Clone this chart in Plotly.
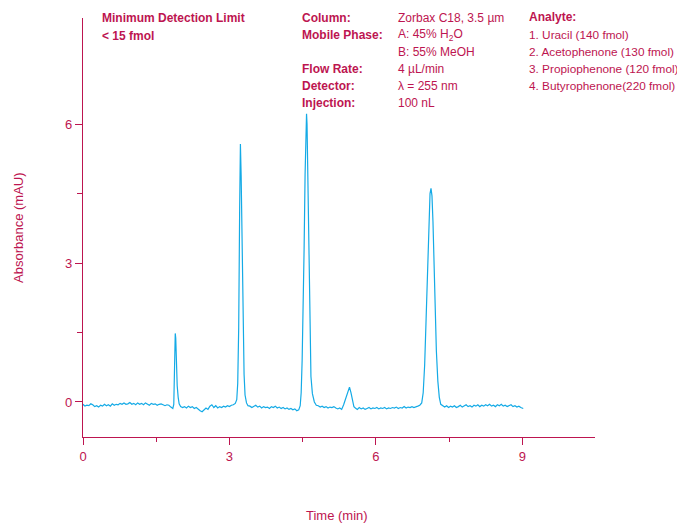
import plotly.graph_objects as go

# ---- data ----
time_min = [
    0.00, 0.04, 0.08, 0.12, 0.16, 0.20, 0.24, 0.28, 0.32, 0.36, 0.40, 0.44, 0.48, 0.52, 0.56, 0.60,
    0.64, 0.68, 0.72, 0.76, 0.80, 0.84, 0.88, 0.92, 0.96, 1.00, 1.04, 1.08, 1.12, 1.16, 1.20, 1.24,
    1.28, 1.32, 1.36, 1.40, 1.44, 1.48, 1.52, 1.56, 1.60, 1.64, 1.68, 1.72, 1.76, 1.80, 1.84,
    1.86, 1.87, 1.88, 1.89, 1.90, 1.91, 1.92, 1.93, 1.95, 1.97, 2.00,
    2.04, 2.08, 2.12, 2.16, 2.20, 2.24, 2.28, 2.32, 2.36, 2.40, 2.44, 2.48, 2.52, 2.56, 2.60, 2.64,
    2.68, 2.72, 2.76, 2.80, 2.84, 2.88, 2.92, 2.96, 3.00, 3.04, 3.08, 3.12,
    3.15, 3.17, 3.19, 3.21, 3.225, 3.24, 3.26, 3.28, 3.30, 3.32, 3.35, 3.38,
    3.42, 3.46, 3.50, 3.54, 3.58, 3.62, 3.66, 3.70, 3.74, 3.78, 3.82, 3.86, 3.90, 3.94, 3.98, 4.02,
    4.06, 4.10, 4.14, 4.18, 4.22, 4.26, 4.30, 4.34, 4.38, 4.42,
    4.45, 4.47, 4.49, 4.51, 4.53, 4.55, 4.57, 4.58, 4.59, 4.61, 4.63, 4.65, 4.67, 4.70, 4.74, 4.78,
    4.82, 4.86, 4.90, 4.94, 4.98, 5.02, 5.06, 5.10, 5.14, 5.18, 5.22, 5.26, 5.30,
    5.34, 5.38, 5.42, 5.46, 5.49, 5.52, 5.55,
    5.58, 5.62, 5.66, 5.70, 5.74, 5.78, 5.82, 5.86, 5.90, 5.94, 5.98, 6.02, 6.06, 6.10, 6.14, 6.18,
    6.22, 6.26, 6.30, 6.34, 6.38, 6.42, 6.46, 6.50, 6.54, 6.58, 6.62, 6.66, 6.70, 6.74, 6.78, 6.82,
    6.86, 6.90,
    6.94, 6.97, 7.00, 7.03, 7.06, 7.09, 7.11, 7.13, 7.15, 7.17, 7.19, 7.21, 7.24, 7.27, 7.30, 7.33, 7.37,
    7.41, 7.45, 7.49, 7.53, 7.57, 7.61, 7.65, 7.69, 7.73, 7.77, 7.81, 7.85, 7.89, 7.93, 7.97, 8.01,
    8.05, 8.09, 8.13, 8.17, 8.21, 8.25, 8.29, 8.33, 8.37, 8.41, 8.45, 8.49, 8.53, 8.57, 8.61, 8.65,
    8.69, 8.73, 8.77, 8.81, 8.85, 8.89, 8.93, 8.97, 9.02,
]

absorbance_mau = [
    -0.05, -0.09, -0.07, -0.08, -0.04, -0.06, -0.10, -0.08, -0.11, -0.07, -0.09, -0.05, -0.08, -0.06, -0.09, -0.04,
    -0.07, -0.05, -0.06, -0.03, -0.05, -0.02, -0.05, -0.04, -0.01, -0.05, -0.03, -0.06, -0.02, -0.05, -0.03, -0.06,
    -0.02, -0.04, -0.07, -0.03, -0.05, -0.04, -0.07, -0.05, -0.04, -0.06, -0.08, -0.06, -0.07, -0.11, -0.14,
    -0.05, 0.60, 1.30, 1.48, 1.38, 0.95, 0.55, 0.35, 0.10, -0.04, -0.10,
    -0.12, -0.10, -0.13, -0.09, -0.12, -0.10, -0.14, -0.12, -0.16, -0.19, -0.21, -0.17, -0.13, -0.16, -0.09, -0.06,
    -0.12, -0.08, -0.13, -0.10, -0.12, -0.09, -0.11, -0.08, -0.10, -0.07, -0.06, -0.03,
    0.05, 0.40, 1.60, 4.20, 5.57, 4.90, 3.20, 1.60, 0.60, 0.15, -0.02, -0.08,
    -0.09, -0.12, -0.10, -0.07, -0.11, -0.09, -0.13, -0.10, -0.12, -0.11, -0.14, -0.10, -0.12, -0.09, -0.13, -0.11,
    -0.14, -0.12, -0.15, -0.13, -0.16, -0.14, -0.17, -0.15, -0.19, -0.17,
    -0.08, 0.20, 0.90, 1.90, 3.30, 4.90, 6.10, 6.22, 6.00, 4.60, 2.60, 1.30, 0.55, 0.18, 0.00, -0.07,
    -0.08, -0.11, -0.09, -0.12, -0.10, -0.13, -0.11, -0.12, -0.10, -0.13, -0.15, -0.13, -0.16,
    -0.06, 0.08, 0.22, 0.32, 0.20, 0.02, -0.10,
    -0.13, -0.16, -0.12, -0.15, -0.13, -0.16, -0.14, -0.12, -0.15, -0.13, -0.14, -0.12, -0.15, -0.13, -0.14, -0.12,
    -0.15, -0.13, -0.14, -0.12, -0.13, -0.11, -0.14, -0.12, -0.13, -0.10, -0.13, -0.11, -0.12, -0.10, -0.12, -0.11,
    -0.09, -0.07,
    -0.02, 0.20, 0.80, 1.80, 3.00, 4.10, 4.50, 4.61, 4.45, 3.90, 3.00, 2.10, 1.10, 0.45, 0.10, -0.05, -0.09,
    -0.11, -0.08, -0.12, -0.09, -0.11, -0.08, -0.12, -0.10, -0.07, -0.11, -0.09, -0.06, -0.10, -0.08, -0.11, -0.07,
    -0.09, -0.06, -0.10, -0.07, -0.09, -0.06, -0.08, -0.05, -0.09, -0.07, -0.10, -0.06, -0.08, -0.05, -0.09, -0.07,
    -0.10, -0.08, -0.06, -0.10, -0.08, -0.11, -0.09, -0.12, -0.14,
]

x_ticks = [0, 3, 6, 9]
x_minor_ticks = [1.5, 4.5, 7.5]
y_ticks = [0, 3, 6]
y_minor_ticks = [1.5, 4.5]

left_note = ["Minimum Detection Limit", "< 15 fmol"]
cond_labels = ["Column:", "Mobile Phase:", "", "Flow Rate:", "Detector:", "Injection:"]
cond_values = ["Zorbax C18, 3.5 µm", "A: 45% H<sub>2</sub>O", "B: 55% MeOH",
               "4 µL/min", "λ = 255 nm", "100 nL"]
analyte_title = "Analyte:"
analytes = ["1. Uracil (140 fmol)", "2. Acetophenone (130 fmol)",
            "3. Propiophenone (120 fmol)", "4. Butyrophenone(220 fmol)"]

# ---- style ----
CRIMSON = "#BD1550"
LINE = "#14AAE6"
FONT = "Liberation Sans, Arial, sans-serif"

OFF = 8  # page body margin
W, H = 685 - OFF, 523 - OFF
L, T = 83 - OFF, 18 - OFF
R = W - (595 - OFF)
B = H - (437 - OFF)
pw, ph = W - L - R, H - T - B


def px(xp):
    return (xp - OFF - L) / pw


def py(yp):
    return (H - B - (yp - OFF)) / ph


fig = go.Figure(go.Scatter(x=time_min, y=absorbance_mau, mode="lines",
                           line=dict(color=LINE, width=1.2), hoverinfo="skip"))

axis_common = dict(showline=True, linecolor=CRIMSON, linewidth=1.3, showgrid=False,
                   zeroline=False, ticks="outside", ticklen=7, tickwidth=1.3,
                   tickcolor=CRIMSON, tickfont=dict(family=FONT, size=13, color=CRIMSON))

fig.update_xaxes(range=[0, 10.49], tickmode="array", tickvals=x_ticks,
                 minor=dict(tickmode="array", tickvals=x_minor_ticks, ticks="outside",
                            ticklen=4, tickwidth=1.3, tickcolor=CRIMSON),
                 **axis_common)
fig.update_yaxes(range=[-0.756, 8.29], tickmode="array", tickvals=y_ticks,
                 minor=dict(tickmode="array", tickvals=y_minor_ticks, ticks="outside",
                            ticklen=5, tickwidth=1.3, tickcolor=CRIMSON),
                 **axis_common)

ann = []


def add(text, x, y, bold=False, size=12):
    ann.append(dict(text=f"<b>{text}</b>" if bold else text, x=px(x), y=py(y),
                    xref="paper", yref="paper", xanchor="left", yanchor="middle",
                    showarrow=False, font=dict(family=FONT, size=size, color=CRIMSON)))


add(left_note[0], 100, 18, bold=True)
add(left_note[1], 100, 36, bold=True)

rows_y = [18, 35, 52, 69, 86, 103]
for lab, val, yy in zip(cond_labels, cond_values, rows_y):
    if lab:
        add(lab, 300, yy, bold=True)
    add(val, 396, yy)

add(analyte_title, 527, 17, bold=True)
for i, a in enumerate(analytes):
    add(a, 527, 35 + 17 * i, size=11.8)

# axis titles
ann.append(dict(text="Time (min)", x=px(337), y=py(515), xref="paper", yref="paper",
                xanchor="center", yanchor="middle", showarrow=False,
                font=dict(family=FONT, size=13, color=CRIMSON)))
ann.append(dict(text="Absorbance (mAU)", x=px(18), y=py(228), xref="paper", yref="paper",
                xanchor="center", yanchor="middle", showarrow=False, textangle=-90,
                font=dict(family=FONT, size=13, color=CRIMSON)))

fig.update_layout(width=W, height=H, margin=dict(l=L, r=R, t=T, b=B),
                  paper_bgcolor="white", plot_bgcolor="white", showlegend=False,
                  annotations=ann)

fig.write_html("out.html")
